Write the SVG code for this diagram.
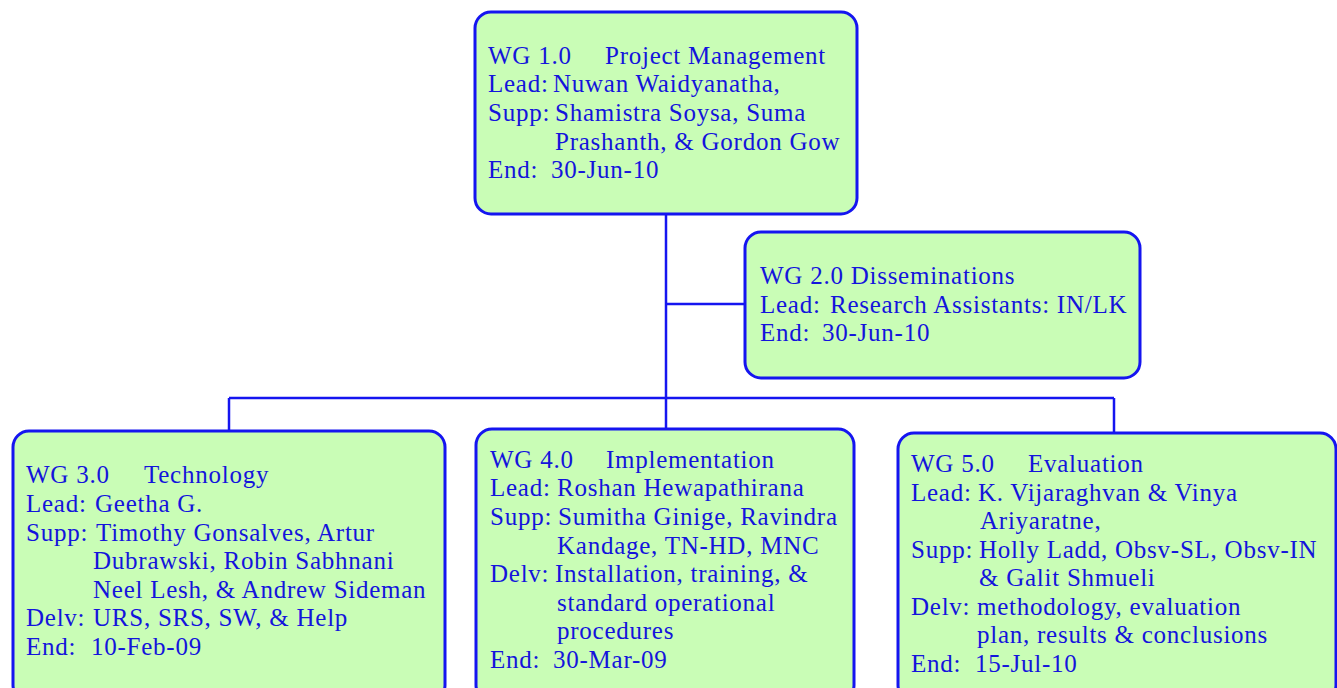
<svg xmlns="http://www.w3.org/2000/svg" width="1337" height="688" viewBox="0 0 1337 688">
<style>
.box{fill:#c9fdb6;stroke:#1515f0;stroke-width:3}
.ln{stroke:#1515f0;stroke-width:2.5;fill:none}
text{font-family:"Liberation Serif","Times New Roman",serif;font-size:25px;fill:#1414dc;letter-spacing:0.75px}
</style>
<rect width="1337" height="688" fill="#ffffff"/>
<g id="connectors">
<line class="ln" x1="666" y1="214" x2="666" y2="429"/>
<line class="ln" x1="666" y1="304" x2="745" y2="304"/>
<line class="ln" x1="229" y1="398" x2="1114" y2="398"/>
<line class="ln" x1="229" y1="398" x2="229" y2="431"/>
<line class="ln" x1="1114" y1="398" x2="1114" y2="433"/>
</g>
<g id="wg1">
<rect class="box" x="475" y="12" width="382" height="202" rx="16"/>
<text x="488" y="64">WG 1.0<tspan x="605">Project Management</tspan></text>
<text x="488" y="92">Lead:<tspan x="553">Nuwan Waidyanatha,</tspan></text>
<text x="488" y="121">Supp:<tspan x="555">Shamistra Soysa, Suma</tspan></text>
<text x="555" y="150">Prashanth, &amp; Gordon Gow</text>
<text x="488" y="178">End:<tspan x="551">30-Jun-10</tspan></text>
</g>
<g id="wg2">
<rect class="box" x="745" y="232" width="395" height="146" rx="16"/>
<text x="760" y="284">WG 2.0 Disseminations</text>
<text x="760" y="313">Lead:<tspan x="830">Research Assistants: IN/LK</tspan></text>
<text x="760" y="341">End:<tspan x="822">30-Jun-10</tspan></text>
</g>
<g id="wg3">
<rect class="box" x="13" y="431" width="432" height="270" rx="16"/>
<text x="26" y="483">WG 3.0<tspan x="144">Technology</tspan></text>
<text x="26" y="512">Lead:<tspan x="95">Geetha G.</tspan></text>
<text x="26" y="541">Supp:<tspan x="96">Timothy Gonsalves, Artur</tspan></text>
<text x="93" y="569">Dubrawski, Robin Sabhnani</text>
<text x="93" y="598">Neel Lesh, &amp; Andrew Sideman</text>
<text x="26" y="626">Delv:<tspan x="93">URS, SRS, SW, &amp; Help</tspan></text>
<text x="26" y="655">End:<tspan x="91">10-Feb-09</tspan></text>
</g>
<g id="wg4">
<rect class="box" x="476" y="429" width="378" height="272" rx="16"/>
<text x="490" y="468">WG 4.0<tspan x="606">Implementation</tspan></text>
<text x="490" y="496">Lead:<tspan x="557">Roshan Hewapathirana</tspan></text>
<text x="490" y="525">Supp:<tspan x="558">Sumitha Ginige, Ravindra</tspan></text>
<text x="557" y="554">Kandage, TN-HD, MNC</text>
<text x="490" y="582">Delv:<tspan x="555">Installation, training, &amp;</tspan></text>
<text x="557" y="611">standard operational</text>
<text x="557" y="639">procedures</text>
<text x="490" y="668">End:<tspan x="553">30-Mar-09</tspan></text>
</g>
<g id="wg5">
<rect class="box" x="898" y="433" width="438" height="268" rx="16"/>
<text x="911" y="472">WG 5.0<tspan x="1028">Evaluation</tspan></text>
<text x="911" y="501">Lead:<tspan x="978">K. Vijaraghvan &amp; Vinya</tspan></text>
<text x="980" y="529">Ariyaratne,</text>
<text x="911" y="558">Supp:<tspan x="979">Holly Ladd, Obsv-SL, Obsv-IN</tspan></text>
<text x="979" y="586">&amp; Galit Shmueli</text>
<text x="911" y="615">Delv:<tspan x="977">methodology, evaluation</tspan></text>
<text x="977" y="643">plan, results &amp; conclusions</text>
<text x="911" y="672">End:<tspan x="975">15-Jul-10</tspan></text>
</g>
</svg>
